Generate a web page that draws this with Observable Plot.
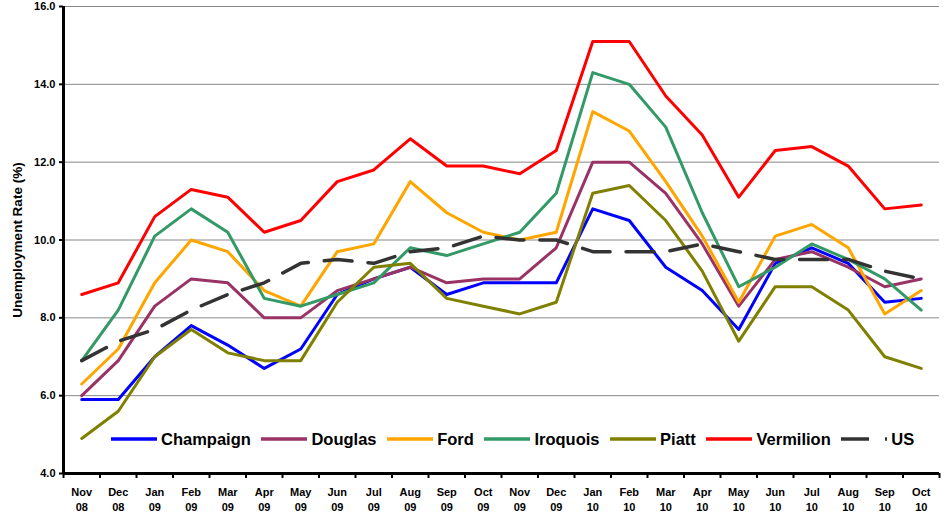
<!DOCTYPE html>
<html>
<head>
<meta charset="utf-8">
<script src="https://cdn.jsdelivr.net/npm/d3@7"></script>
<script src="https://cdn.jsdelivr.net/npm/@observablehq/plot@0.6"></script>
<style>
  html, body { margin: 0; padding: 0; background: #fff; }
  #wrap { position: relative; width: 946px; height: 513px; font-family: "Liberation Sans", Arial, sans-serif; }
  #legend { position: absolute; left: 111px; top: 428px; display: flex; align-items: center; height: 22px; }
  .item { display: flex; align-items: center; margin-right: 10.6px; }
  .item span { font-weight: bold; font-size: 16.5px; color: #000; margin-left: 4px; }
  .item svg { display: block; }
</style>
</head>
<body>
<div id="wrap"></div>
<script>
const months = ["Nov","Dec","Jan","Feb","Mar","Apr","May","Jun","Jul","Aug","Sep","Oct","Nov","Dec","Jan","Feb","Mar","Apr","May","Jun","Jul","Aug","Sep","Oct"];
const years  = ["08","08","09","09","09","09","09","09","09","09","09","09","09","09","10","10","10","10","10","10","10","10","10","10"];

const champaign = [5.9,5.9,7.0,7.8,7.3,6.7,7.2,8.6,9.0,9.3,8.6,8.9,8.9,8.9,10.8,10.5,9.3,8.7,7.7,9.4,9.8,9.4,8.4,8.5];
const douglas   = [6.0,6.9,8.3,9.0,8.9,8.0,8.0,8.7,9.0,9.3,8.9,9.0,9.0,9.8,12.0,12.0,11.2,9.9,8.3,9.5,9.7,9.3,8.8,9.0];
const ford      = [6.3,7.2,8.9,10.0,9.7,8.7,8.3,9.7,9.9,11.5,10.7,10.2,10.0,10.2,13.3,12.8,11.5,10.1,8.4,10.1,10.4,9.8,8.1,8.7];
const iroquois  = [6.9,8.2,10.1,10.8,10.2,8.5,8.3,8.6,8.9,9.8,9.6,9.9,10.2,11.2,14.3,14.0,12.9,10.7,8.8,9.3,9.9,9.5,9.0,8.2];
const piatt     = [4.9,5.6,7.0,7.7,7.1,6.9,6.9,8.4,9.3,9.4,8.5,8.3,8.1,8.4,11.2,11.4,10.5,9.2,7.4,8.8,8.8,8.2,7.0,6.7];
const vermilion = [8.6,8.9,10.6,11.3,11.1,10.2,10.5,11.5,11.8,12.6,11.9,11.9,11.7,12.3,15.1,15.1,13.7,12.7,11.1,12.3,12.4,11.9,10.8,10.9];
const us        = [6.9,7.4,7.7,8.2,8.6,8.9,9.4,9.5,9.4,9.7,9.8,10.1,10.0,10.0,9.7,9.7,9.7,9.9,9.7,9.5,9.5,9.5,9.2,9.0];

const seriesNames = ["Champaign","Douglas","Ford","Iroquois","Piatt","Vermilion","US"];
const seriesValues = [champaign, douglas, ford, iroquois, piatt, vermilion, us];
const seriesColors = ["#0000FF","#993366","#FFA500","#339966","#808000","#FF0000","#333333"];
const yTicks = [4,6,8,10,12,14,16];

const rows = [];
seriesNames.forEach((name, s) => seriesValues[s].forEach((v, i) => rows.push({series: name, i, value: v})));

const countyMarks = seriesNames.slice(0, 6).map((name, s) =>
  Plot.line(rows.filter(d => d.series === name), {
    x: "i", y: "value", stroke: seriesColors[s], strokeWidth: 3,
    strokeLinejoin: "round", strokeLinecap: "round"
  })
);

const chart = Plot.plot({
  width: 946,
  height: 513,
  marginLeft: 63,
  marginRight: 7,
  marginTop: 6,
  marginBottom: 40,
  style: { fontFamily: "Liberation Sans, Arial, sans-serif", background: "#fff", color: "#000", overflow: "visible" },
  x: { type: "linear", domain: [-0.5, months.length - 0.5] },
  y: { domain: [4, 16] },
  marks: [
    Plot.gridY(yTicks.slice(1), { stroke: "#888", strokeOpacity: 1, strokeWidth: 1 }),
    ...countyMarks,
    Plot.line(rows.filter(d => d.series === "US"), {
      x: "i", y: "value", stroke: seriesColors[6], strokeWidth: 3.5, strokeDasharray: "28,16"
    }),
    Plot.ruleY([4], { stroke: "#000", strokeWidth: 3 }),
    Plot.ruleX([-0.5], { stroke: "#000", strokeWidth: 3 }),
    Plot.axisY(yTicks, {
      tickSize: 4, tickPadding: 4, tickFormat: d3.format(".1f"),
      fontWeight: "bold", fontSize: 11, label: null, strokeWidth: 2
    }),
    Plot.text(["Unemployment Rate (%)"], {
      frameAnchor: "left", textAnchor: "middle", rotate: -90, dx: -46,
      fontWeight: "bold", fontSize: 13.5, fill: "#000"
    }),
    Plot.axisX(d3.range(-0.5, months.length, 1), {
      tickSize: 5, tickFormat: () => "", label: null, strokeWidth: 2
    }),
    Plot.axisX(d3.range(months.length), {
      tickSize: 0, tickPadding: 12, tickFormat: i => months[i] + "\n" + years[i],
      fontWeight: "bold", fontSize: 11, lineHeight: 1.35, label: null
    })
  ]
});

const wrap = document.getElementById("wrap");
wrap.appendChild(chart);

const legend = document.createElement("div");
legend.id = "legend";
seriesNames.forEach((name, s) => {
  const item = document.createElement("div");
  item.className = "item";
  const dash = name === "US" ? ' stroke-dasharray="28,16"' : '';
  item.innerHTML = `<svg width="46" height="8"><line x1="0" y1="4" x2="46" y2="4" stroke="${seriesColors[s]}" stroke-width="3.5"${dash}/></svg><span>${name}</span>`;
  legend.appendChild(item);
});
wrap.appendChild(legend);
</script>
</body>
</html>
